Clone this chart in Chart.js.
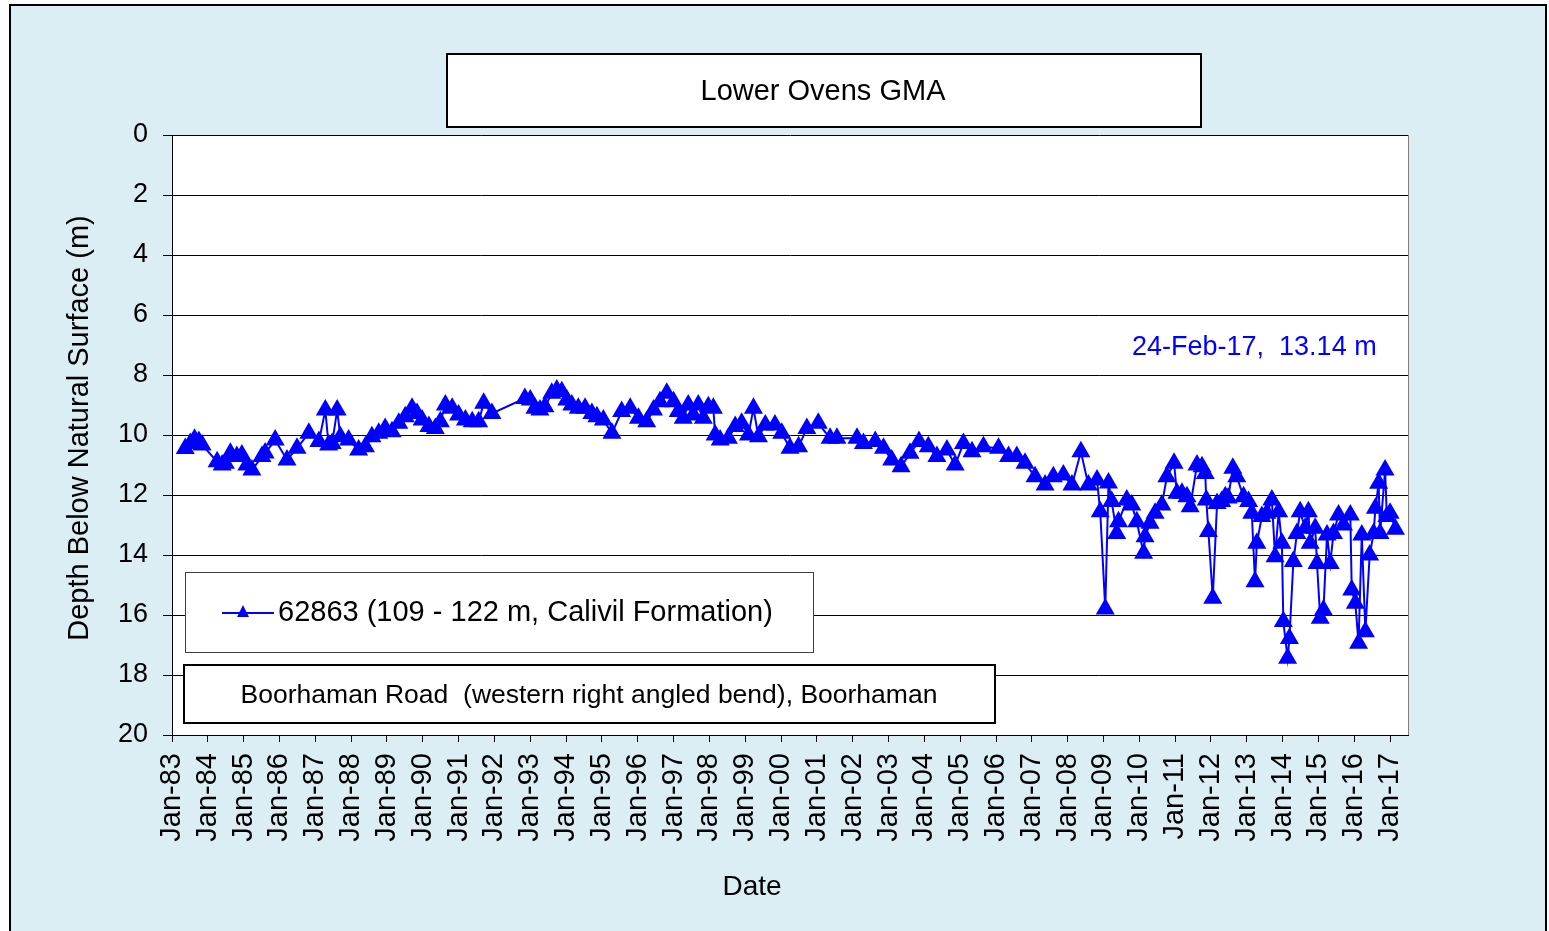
<!DOCTYPE html>
<html lang="en">
<head>
    <meta charset="UTF-8">
    <title>Lower Ovens GMA</title>
    <style>
        body, html {
            margin: 0;
            padding: 0;
            background: #ffffff;
        }
        canvas {
            display: block;
        }
    </style>
    <script src="https://cdn.jsdelivr.net/npm/chart.js"></script>
</head>
<body>
    <canvas id="bore" width="1549" height="931"></canvas>
    <script>
        // bore 62863 - decimal year of reading and depth below surface (m)
        const years = [
            1983.37, 1983.51, 1983.63, 1983.75, 1983.84, 1984.26, 1984.40, 1984.49, 1984.63, 1984.81,
            1984.95, 1985.09, 1985.23, 1985.51, 1985.60, 1985.88, 1986.21, 1986.49, 1986.82, 1987.10,
            1987.28, 1987.37, 1987.47, 1987.61, 1987.70, 1987.93, 1988.21, 1988.40, 1988.58, 1988.77,
            1988.95, 1989.14, 1989.33, 1989.51, 1989.70, 1989.84, 1989.98, 1990.17, 1990.35, 1990.49,
            1990.63, 1990.82, 1991.00, 1991.19, 1991.38, 1991.56, 1991.70, 1991.93, 1992.85, 1993.00,
            1993.13, 1993.27, 1993.41, 1993.60, 1993.74, 1993.88, 1994.02, 1994.16, 1994.34, 1994.53,
            1994.72, 1994.86, 1995.04, 1995.28, 1995.55, 1995.79, 1996.02, 1996.25, 1996.44, 1996.62,
            1996.81, 1997.00, 1997.13, 1997.27, 1997.41, 1997.55, 1997.69, 1997.83, 1997.97, 1998.11,
            1998.16, 1998.30, 1998.53, 1998.72, 1998.90, 1999.09, 1999.23, 1999.37, 1999.56, 1999.83,
            2000.02, 2000.25, 2000.49, 2000.72, 2001.04, 2001.37, 2001.56, 2002.12, 2002.30, 2002.63,
            2002.86, 2003.09, 2003.35, 2003.60, 2003.85, 2004.11, 2004.35, 2004.63, 2004.86, 2005.09,
            2005.33, 2005.65, 2006.07, 2006.35, 2006.58, 2006.81, 2007.09, 2007.37, 2007.60, 2007.88,
            2008.12, 2008.37, 2008.58, 2008.82, 2008.91, 2009.05, 2009.14, 2009.23, 2009.37, 2009.42,
            2009.65, 2009.79, 2009.93, 2010.12, 2010.16, 2010.30, 2010.44, 2010.63, 2010.77, 2010.97,
            2011.05, 2011.19, 2011.33, 2011.42, 2011.61, 2011.75, 2011.84, 2011.87, 2011.93, 2012.05,
            2012.17, 2012.30, 2012.40, 2012.48, 2012.61, 2012.72, 2012.91, 2013.05, 2013.14, 2013.23,
            2013.28, 2013.42, 2013.56, 2013.70, 2013.79, 2013.89, 2013.98, 2014.02, 2014.14, 2014.19,
            2014.30, 2014.40, 2014.49, 2014.63, 2014.72, 2014.77, 2014.91, 2014.96, 2015.05, 2015.14,
            2015.24, 2015.33, 2015.42, 2015.56, 2015.70, 2015.89, 2015.93, 2016.03, 2016.12, 2016.21,
            2016.31, 2016.43, 2016.54, 2016.59, 2016.68, 2016.72, 2016.86, 2016.91, 2017.00, 2017.15
        ];
        const depths = [
            10.45, 10.28, 10.14, 10.22, 10.33, 10.89, 11.00, 10.94, 10.61, 10.72,
            10.67, 11.00, 11.17, 10.72, 10.60, 10.17, 10.83, 10.44, 9.94, 10.22,
            9.17, 10.33, 10.28, 9.17, 10.06, 10.17, 10.50, 10.39, 10.06, 9.94,
            9.78, 9.89, 9.61, 9.39, 9.11, 9.28, 9.50, 9.72, 9.78, 9.56,
            9.00, 9.11, 9.33, 9.50, 9.56, 9.56, 8.94, 9.28, 8.78, 8.83,
            9.11, 9.17, 9.06, 8.61, 8.50, 8.56, 8.83, 9.00, 9.11, 9.11,
            9.28, 9.39, 9.50, 9.94, 9.22, 9.11, 9.44, 9.56, 9.17, 8.89,
            8.61, 8.89, 9.22, 9.44, 9.00, 9.33, 9.00, 9.44, 9.06, 9.11,
            10.00, 10.17, 10.11, 9.72, 9.61, 10.00, 9.11, 10.06, 9.67, 9.67,
            9.94, 10.44, 10.39, 9.78, 9.61, 10.11, 10.11, 10.11, 10.28, 10.22,
            10.44, 10.83, 11.06, 10.61, 10.22, 10.39, 10.72, 10.50, 11.00, 10.28,
            10.56, 10.39, 10.44, 10.72, 10.72, 10.94, 11.39, 11.67, 11.39, 11.33,
            11.67, 10.56, 11.67, 11.50, 12.56, 15.80, 11.60, 12.22, 13.28, 12.89,
            12.17, 12.33, 12.89, 13.94, 13.39, 12.94, 12.61, 12.33, 11.39, 10.94,
            11.94, 11.94, 12.06, 12.39, 11.00, 11.06, 11.28, 12.17, 13.22, 15.44,
            12.28, 12.22, 12.06, 12.10, 11.11, 11.39, 12.06, 12.22, 12.61, 14.89,
            13.61, 12.72, 12.61, 12.17, 14.06, 12.56, 13.61, 16.22, 17.44, 16.78,
            14.22, 13.28, 12.56, 13.11, 12.56, 13.61, 13.11, 14.28, 16.11, 15.83,
            13.33, 14.28, 13.28, 12.67, 13.00, 12.67, 15.17, 15.61, 16.94, 13.33,
            16.56, 14.00, 13.28, 12.44, 11.61, 13.28, 11.17, 12.72, 12.61, 13.14
        ];
        const seriesName = '62863 (109 - 122 m, Calivil Formation)';
        const chartTitle = 'Lower Ovens GMA';
        const siteName = 'Boorhaman Road  (western right angled bend), Boorhaman';
        const lastReading = '24-Feb-17,  13.14 m';
        const xTitle = 'Date';
        const yTitle = 'Depth Below Natural Surface (m)';
        const depthTicks = [0, 2, 4, 6, 8, 10, 12, 14, 16, 18, 20];

        const FONT = "'Liberation Sans', Arial, sans-serif";
        const BLUE = '#0000ff';

        const points = years.map((yr, i) => ({ x: yr, y: depths[i] }));

        // frame, plot background, text boxes
        const sheet = {
            id: 'sheet',
            beforeDraw(chart) {
                const ctx = chart.ctx;
                const a = chart.chartArea;
                ctx.save();
                ctx.fillStyle = '#ffffff';
                ctx.fillRect(0, 0, chart.width, chart.height);
                ctx.fillStyle = '#dbeef3';
                ctx.fillRect(10, 5, 1536, 940);
                ctx.strokeStyle = '#000000';
                ctx.lineWidth = 2;
                ctx.strokeRect(10, 5, 1536, 940);
                ctx.fillStyle = '#ffffff';
                ctx.fillRect(a.left, a.top, a.right - a.left, a.bottom - a.top);
                ctx.restore();
            },
            afterDraw(chart) {
                const ctx = chart.ctx;
                const a = chart.chartArea;
                ctx.save();
                // right edge of plot
                ctx.strokeStyle = '#808080';
                ctx.lineWidth = 1;
                ctx.beginPath();
                ctx.moveTo(a.right + 0.5, a.top);
                ctx.lineTo(a.right + 0.5, a.bottom);
                ctx.stroke();

                // title box
                ctx.fillStyle = '#ffffff';
                ctx.fillRect(447, 54, 754, 73);
                ctx.strokeStyle = '#000000';
                ctx.lineWidth = 2;
                ctx.strokeRect(447, 54, 754, 73);
                ctx.fillStyle = '#000000';
                ctx.font = '29px ' + FONT;
                ctx.textAlign = 'center';
                ctx.textBaseline = 'middle';
                ctx.fillText(chartTitle, 823, 92);

                // axis titles
                ctx.font = '28px ' + FONT;
                ctx.fillText(xTitle, 752, 887);
                ctx.save();
                ctx.translate(80, 428);
                ctx.rotate(-Math.PI / 2);
                ctx.font = '29px ' + FONT;
                ctx.fillText(yTitle, 0, 0);
                ctx.restore();

                // last reading note
                ctx.fillStyle = BLUE;
                ctx.font = '27px ' + FONT;
                ctx.textAlign = 'left';
                ctx.fillText(lastReading, 1132, 348);

                // legend box
                ctx.fillStyle = '#ffffff';
                ctx.fillRect(185, 572, 628, 80);
                ctx.strokeStyle = '#404040';
                ctx.lineWidth = 1;
                ctx.strokeRect(185.5, 572.5, 628, 80);
                ctx.strokeStyle = BLUE;
                ctx.lineWidth = 2;
                ctx.beginPath();
                ctx.moveTo(222, 613);
                ctx.lineTo(274, 613);
                ctx.stroke();
                ctx.fillStyle = BLUE;
                ctx.beginPath();
                ctx.moveTo(243, 605);
                ctx.lineTo(249, 617);
                ctx.lineTo(237, 617);
                ctx.closePath();
                ctx.fill();
                ctx.fillStyle = '#000000';
                ctx.font = '29px ' + FONT;
                ctx.textAlign = 'left';
                ctx.fillText(seriesName, 278, 613);

                // site box
                ctx.fillStyle = '#ffffff';
                ctx.fillRect(184, 665, 811, 58);
                ctx.strokeStyle = '#000000';
                ctx.lineWidth = 2;
                ctx.strokeRect(184, 665, 811, 58);
                ctx.fillStyle = '#000000';
                ctx.font = '26.5px ' + FONT;
                ctx.textAlign = 'center';
                ctx.fillText(siteName, 589, 696);
                ctx.restore();
            }
        };

        const ctx = document.getElementById('bore').getContext('2d');
        new Chart(ctx, {
            type: 'line',
            data: {
                datasets: [{
                    label: seriesName,
                    data: points,
                    borderColor: BLUE,
                    backgroundColor: BLUE,
                    borderWidth: 2,
                    pointStyle: 'triangle',
                    pointRadius: 9,
                    pointBorderWidth: 2,
                    tension: 0
                }]
            },
            options: {
                responsive: false,
                animation: false,
                layout: { padding: { left: 0, top: 135, right: 141, bottom: 0 } },
                plugins: {
                    legend: { display: false },
                    tooltip: { enabled: false }
                },
                scales: {
                    x: {
                        type: 'linear',
                        min: 1983,
                        max: 2017.5,
                        afterFit(scale) { scale.height = 196; },
                        ticks: {
                            stepSize: 1,
                            includeBounds: false,
                            autoSkip: false,
                            minRotation: 90,
                            maxRotation: 90,
                            padding: 11,
                            color: '#000000',
                            font: { family: FONT, size: 29 },
                            callback: v => 'Jan-' + String(v).slice(2)
                        },
                        grid: {
                            drawOnChartArea: false,
                            drawTicks: true,
                            tickLength: 7,
                            color: '#000000'
                        },
                        border: { color: '#000000', width: 1 }
                    },
                    y: {
                        type: 'linear',
                        reverse: true,
                        min: 0,
                        max: 20,
                        afterFit(scale) { scale.width = 172; },
                        afterBuildTicks(scale) {
                            scale.ticks = depthTicks.map(v => ({ value: v }));
                        },
                        ticks: {
                            padding: 15,
                            color: '#000000',
                            font: { family: FONT, size: 27 }
                        },
                        grid: {
                            color: '#000000',
                            lineWidth: 1,
                            tickLength: 9
                        },
                        border: { color: '#000000', width: 1 }
                    }
                }
            },
            plugins: [sheet]
        });
    </script>
</body>
</html>
